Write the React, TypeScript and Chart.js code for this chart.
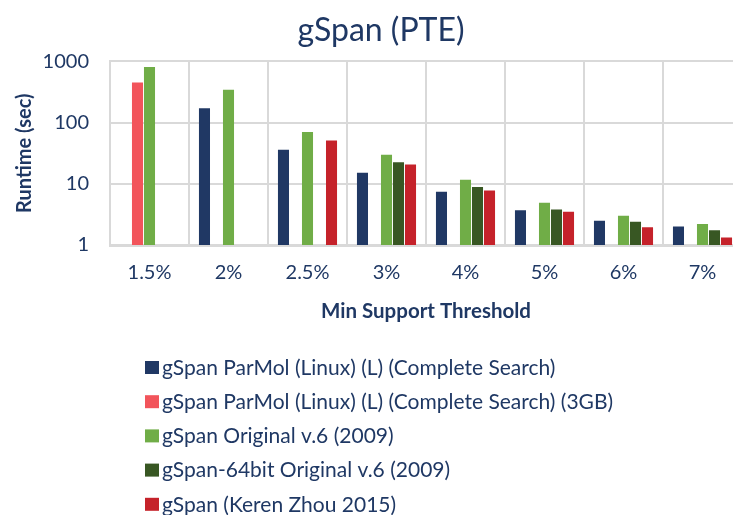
import React, { useEffect, useRef } from 'react';
import { Chart, registerables } from 'chart.js';

Chart.register(...registerables);

const categories = ['1.5%', '2%', '2.5%', '3%', '4%', '5%', '6%', '7%'];
const seriesNames = [
  'gSpan ParMol (Linux) (L) (Complete Search)',
  'gSpan ParMol (Linux) (L) (Complete Search) (3GB)',
  'gSpan Original v.6 (2009)',
  'gSpan-64bit Original v.6 (2009)',
  'gSpan (Keren Zhou 2015)',
];
const parMol = [null, 171, 36, 15.2, 7.4, 3.7, 2.5, 2.0];
const parMol3GB = [452, null, null, null, null, null, null, null];
const original = [813, 344, 70, 29.8, 11.7, 4.9, 3.0, 2.2];
const original64 = [null, null, null, 22.6, 8.9, 3.8, 2.4, 1.75];
const kerenZhou = [null, null, 51, 20.7, 7.8, 3.5, 1.95, 1.33];
const yTicks = [1, 10, 100, 1000];
const seriesColors = ['#203864', '#F2545B', '#70AD47', '#385723', '#C5222A'];

const FONT = 'Lato, Calibri, "DejaVu Sans", sans-serif';
const TEXT = '#1F3864';
const GRID = '#D9D9D9';

const stackLegend = {
  id: 'stackLegend',
  afterDraw(chart: any) {
    const ctx = chart.ctx;
    ctx.save();
    ctx.font = `21px ${FONT}`;
    ctx.textBaseline = 'middle';
    ctx.textAlign = 'left';
    chart.data.datasets.forEach((ds: any, i: number) => {
      const y = 367 + i * 34.2;
      ctx.fillStyle = ds.backgroundColor;
      ctx.fillRect(145, y - 6, 14, 13);
      ctx.fillStyle = TEXT;
      ctx.fillText(ds.label, 162, y + 1);
    });
    ctx.restore();
  },
};

export default function App() {
  const ref = useRef<HTMLCanvasElement>(null);
  useEffect(() => {
    const values = [parMol, parMol3GB, original, original64, kerenZhou];
    const chart = new Chart(ref.current as HTMLCanvasElement, {
      type: 'bar',
      data: {
        labels: categories,
        datasets: seriesNames.map((name, i) => ({
          label: name,
          data: values[i] as any,
          backgroundColor: seriesColors[i],
          categoryPercentage: 0.76,
          barPercentage: 0.92,
        })),
      },
      options: {
        responsive: false,
        animation: false,
        devicePixelRatio: 1,
        layout: { padding: { left: 20, right: 18, top: 0, bottom: 185 } },
        plugins: {
          legend: { display: false },
          tooltip: { enabled: false },
          title: {
            display: true,
            text: 'gSpan (PTE)',
            color: TEXT,
            font: { family: FONT, size: 32, weight: 'normal' },
            padding: { top: 11, bottom: 12 },
          },
        },
        scales: {
          x: {
            grid: { color: GRID, lineWidth: 2, drawTicks: false, offset: true },
            border: { color: GRID, width: 3 },
            ticks: { color: TEXT, font: { family: FONT, size: 20 }, padding: 16 },
            title: {
              display: true,
              text: 'Min Support Threshold',
              color: TEXT,
              font: { family: FONT, size: 20.5, weight: 'bold' },
              padding: { top: 4, bottom: 6 },
            },
            afterFit: (s: any) => {
              s.height = 85;
            },
          },
          y: {
            type: 'logarithmic',
            min: 1,
            max: 1000,
            afterBuildTicks: (s: any) => {
              s.ticks = yTicks.map((v) => ({ value: v }));
            },
            grid: { color: GRID, lineWidth: 2, drawTicks: false },
            border: { color: GRID, width: 2 },
            ticks: {
              color: TEXT,
              font: { family: FONT, size: 20 },
              padding: 21,
              callback: (v: any) => String(v),
            },
            title: {
              display: true,
              text: 'Runtime (sec)',
              color: TEXT,
              font: { family: FONT, size: 20, weight: 'bold' },
              padding: { top: -7, bottom: 0 },
            },
            afterFit: (s: any) => {
              s.width = 90;
            },
          },
        },
      } as any,
      plugins: [stackLegend],
    });
    return () => chart.destroy();
  }, []);
  return (
    <div style={{ position: 'fixed', left: 0, top: 0, width: 733, height: 515, overflow: 'hidden', background: '#fff' }}>
      <canvas ref={ref} width={760} height={515} style={{ display: 'block', width: 760, height: 515 }} />
    </div>
  );
}
